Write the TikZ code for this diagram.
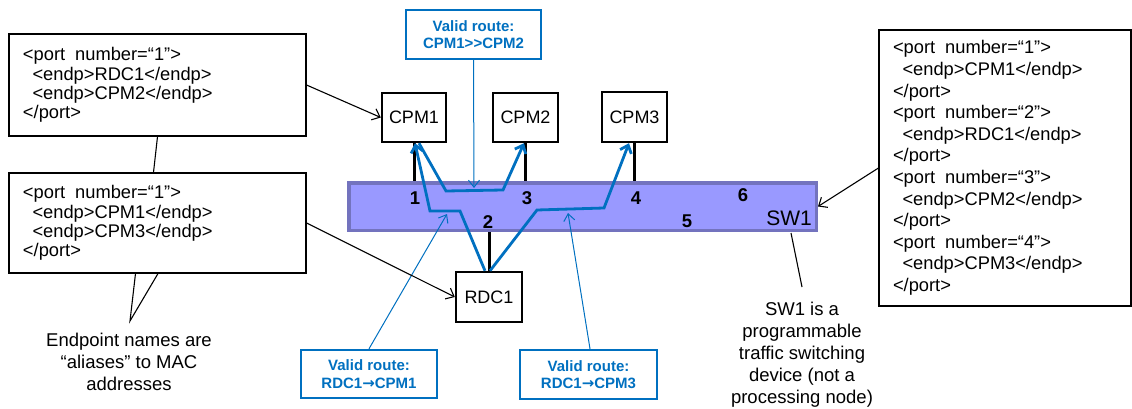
\documentclass[tikz,border=0pt]{standalone}
\usepackage{fontspec}
\setmainfont{Liberation Sans}
\newfontfamily\arrowfont{DejaVu Sans}
\usetikzlibrary{arrows.meta,calc}

\definecolor{routeblue}{RGB}{0,112,192}
\definecolor{swfill}{RGB}{153,153,255}
\definecolor{swedge}{RGB}{115,115,190}

\tikzset{
  xmlbox/.style={draw=black, line width=1.1pt, align=left, inner xsep=14pt, inner ysep=0pt},
  dev/.style={draw=black, line width=2.4pt, fill=white, inner sep=0pt,
    font=\fontsize{18}{20}\selectfont},
  portline/.style={draw=black, line width=3pt},
  portnum/.style={font=\bfseries\fontsize{18.5}{20}\selectfont, inner sep=0pt},
  route/.style={draw=routeblue, line width=2.8pt, line join=miter,
    -{Straight Barb[length=7pt,width=12pt]}},
  callout/.style={draw=routeblue, line width=2.4pt, fill=white, text=routeblue,
    align=center, inner sep=0pt, font=\bfseries\fontsize{15}{17.5}\selectfont},
  pointer/.style={draw=routeblue, line width=1pt,
    -{Straight Barb[length=7pt,width=11pt]}},
  remark/.style={draw=black, line width=1.1pt},
  remarkarrow/.style={draw=black, line width=1.1pt,
    -{Straight Barb[length=7pt,width=12pt]}},
  note/.style={align=center, inner sep=0pt, font=\fontsize{18.5}{22}\selectfont},
}

\newcommand{\ind}{\hspace*{9.5pt}}
\newcommand{\gap}{\hspace{10pt}}
\newcommand{\rarr}{{\arrowfont\bfseries →}}

\begin{document}
\begin{tikzpicture}[x=1pt, y=-1pt]
\useasboundingbox (0,0) rectangle (1132,409);

% XML port tables
\node[xmlbox, text width=269pt, minimum height=102pt,
      font=\fontsize{18.3}{19.4}\selectfont] (box1) at (157.5,85)
  {<port\gap number=“1”>\\ \ind<endp>RDC1</endp>\\ \ind<endp>CPM2</endp>\\ </port>};
\node[xmlbox, text width=269pt, minimum height=100pt,
      font=\fontsize{18.3}{19.4}\selectfont] (box2) at (157.5,223)
  {<port\gap number=“1”>\\ \ind<endp>CPM1</endp>\\ \ind<endp>CPM3</endp>\\ </port>};
\node[xmlbox, text width=224pt, minimum height=276pt,
      font=\fontsize{18.3}{21.6}\selectfont] (box3) at (1005,168)
  {<port\gap number=“1”>\\ \ind<endp>CPM1</endp>\\ </port>\\
   <port\gap number=“2”>\\ \ind<endp>RDC1</endp>\\ </port>\\
   <port\gap number=“3”>\\ \ind<endp>CPM2</endp>\\ </port>\\
   <port\gap number=“4”>\\ \ind<endp>CPM3</endp>\\ </port>};

% switch
\node[draw=swedge, fill=swfill, line width=3.5pt, inner sep=0pt,
      minimum width=467.5pt, minimum height=47.5pt] (sw) at (582.5,206.5) {};

% end devices
\node[dev, minimum width=64pt, minimum height=49pt] (cpm1) at (414,117.5) {CPM1};
\node[dev, minimum width=65pt, minimum height=49pt] (cpm2) at (525.5,117.5) {CPM2};
\node[dev, minimum width=65pt, minimum height=50pt] (cpm3) at (634.5,117) {CPM3};
\node[dev, minimum width=66pt, minimum height=50pt] (rdc1) at (489,297) {RDC1};

% links to switch ports
\draw[portline] (cpm1.south) -- (cpm1.south |- sw.north);
\draw[portline] (cpm2.south) -- (cpm2.south |- sw.north);
\draw[portline] (cpm3.south) -- (cpm3.south |- sw.north);
\draw[portline] (rdc1.north) -- (rdc1.north |- sw.south);

% port numbers
\node[portnum] (p1) at (415,198) {1};
\node[portnum] (p3) at (527,198) {3};
\node[portnum] (p4) at (636,198) {4};
\node[portnum] (p6) at (743,195) {6};
\node[portnum] (p2) at (488,222) {2};
\node[portnum] (p5) at (687,221) {5};
\node[inner sep=0pt, font=\fontsize{21}{22}\selectfont] (swname) at (789,218) {SW1};

% valid routes through the switch
\draw[route] ([xshift=-4pt]rdc1.north) -- (460,211) -- (430,211) -- ([xshift=1pt]cpm1.south);
\draw[route] ([xshift=5pt]cpm1.south) -- (446,191) -- (503,190) -- ([xshift=-1.5pt]cpm2.south);
\draw[route] ([xshift=1pt]rdc1.north) -- (537,210) -- (604,208) -- ([xshift=-5.5pt]cpm3.south);

% route callouts
\node[callout, minimum width=135pt, minimum height=49pt] (vr12) at (473.5,34.5)
  {Valid route:\\CPM1>{}>CPM2};
\node[callout, minimum width=136pt, minimum height=48pt] (vr1) at (369,374)
  {Valid route:\\RDC1\rarr CPM1};
\node[callout, minimum width=137pt, minimum height=49pt] (vr3) at (588.5,374.5)
  {Valid route:\\RDC1\rarr CPM3};

\coordinate (t12) at (474,188);
\coordinate (t1) at (447,214);
\coordinate (t3) at (568,213);
\draw[pointer] (vr12.south) -- (t12);
\draw[pointer] (vr1.north) -- (t1);
\draw[pointer] ([xshift=1.5pt]vr3.north) -- (t3);

% remarks
\draw[remarkarrow] (box1.east) -- (cpm1.west);
\draw[remarkarrow] (box2.east) -- (rdc1.west);
\draw[remarkarrow] (box3.west) -- (sw.east);
\draw[remark] (box1.south) -- ($(box2.north)+(-4,0)$);

\node[note] (alias) at (129,362)
  {Endpoint names are\\“aliases” to MAC\\addresses};
\coordinate (apex) at (130,321);
\draw[remark] ($(box2.south)+(-22,0)$) -- (apex) -- ($(box2.south)+(0.5,0)$);

\node[note] (swnote) at (802,355)
  {SW1 is a\\programmable\\traffic switching\\device (not a\\processing node)};
\coordinate (swtip) at (802,287);
\draw[remark] (791,233) -- (swtip);

\end{tikzpicture}
\end{document}
